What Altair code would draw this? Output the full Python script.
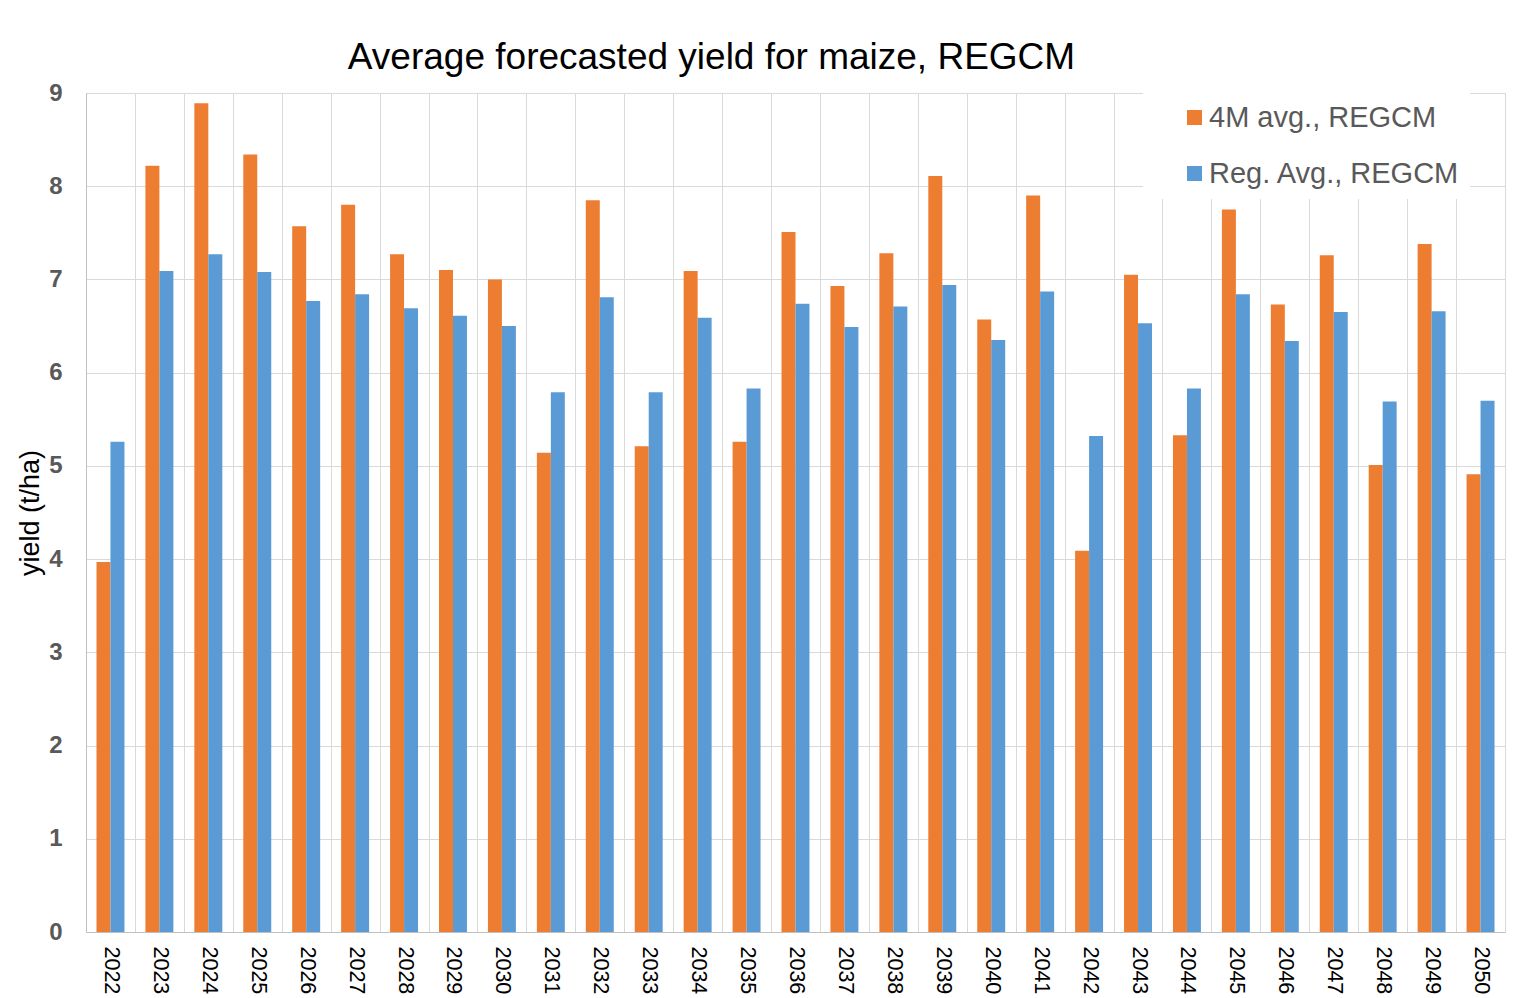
import altair as alt
import pandas as pd

years = [str(y) for y in range(2022, 2051)]
series_names = ["4M avg., REGCM", "Reg. Avg., REGCM"]
avg_4m = [3.97, 8.22, 8.89, 8.34, 7.57, 7.80, 7.27, 7.10, 7.00, 5.14,
          7.85, 5.21, 7.09, 5.26, 7.51, 6.93, 7.28, 8.11, 6.57, 7.90,
          4.09, 7.05, 5.33, 7.75, 6.73, 7.26, 5.01, 7.38, 4.91]
reg_avg = [5.26, 7.09, 7.27, 7.08, 6.77, 6.84, 6.69, 6.61, 6.50, 5.79,
           6.81, 5.79, 6.59, 5.83, 6.74, 6.49, 6.71, 6.94, 6.35, 6.87,
           5.32, 6.53, 5.83, 6.84, 6.34, 6.65, 5.69, 6.66, 5.70]
colors = ["#ED7D31", "#5B9BD5"]

rows = []
for i, y in enumerate(years):
    rows.append({"year": y, "series": series_names[0], "value": avg_4m[i]})
    rows.append({"year": y, "series": series_names[1], "value": reg_avg[i]})
df = pd.DataFrame(rows)

chart = alt.Chart(df).mark_bar().encode(
    x=alt.X("year:N", title=None, sort=years,
            scale=alt.Scale(paddingInner=0, paddingOuter=0),
            axis=alt.Axis(labelAngle=90, labelFont="Liberation Sans", labelFontSize=21.5,
                          labelColor="#000000", labelPadding=14, ticks=False,
                          grid=True, gridColor="#d9d9d9", tickBand="extent",
                          domainColor="#bfbfbf", labelBaseline="middle", labelAlign="left")),
    xOffset=alt.XOffset("series:N", sort=series_names,
                        scale=alt.Scale(paddingInner=0, paddingOuter=0.75)),
    y=alt.Y("value:Q", title="yield (t/ha)",
            scale=alt.Scale(domain=[0, 9], nice=False),
            axis=alt.Axis(values=list(range(0, 10)), ticks=False, gridColor="#d9d9d9",
                          domainColor="#bfbfbf", labelFont="Liberation Sans",
                          labelFontSize=24, labelFontWeight="bold", labelColor="#595959",
                          labelPadding=24, titleFont="Liberation Sans", titleFontSize=27,
                          titleFontWeight="normal", titleColor="#000000", titlePadding=4)),
    color=alt.Color("series:N", sort=series_names,
                    scale=alt.Scale(domain=series_names, range=colors),
                    legend=alt.Legend(title=None, orient="none", legendX=1057, legendY=0,
                                      fillColor="#ffffff", padding=10, symbolOffset=27,
                                      symbolType="square", symbolSize=225,
                                      symbolStrokeWidth=0, labelFontSize=29,
                                      labelFont="Liberation Sans", labelColor="#595959",
                                      rowPadding=26, labelOffset=0, labelLimit=400)),
).properties(
    width=1419, height=839,
    title=alt.TitleParams("Average forecasted yield for maize, REGCM",
                          font="Liberation Sans", fontSize=37, fontWeight="normal",
                          color="#000000", anchor="middle", dx=-84, offset=4),
    autosize=alt.AutoSizeParams(type="none"),
    padding={"left": 78, "top": 85, "right": 14, "bottom": 72},
).configure_view(stroke="#d9d9d9", strokeWidth=1)

chart.save("out.html", embed_options={"renderer": "svg", "actions": False})
